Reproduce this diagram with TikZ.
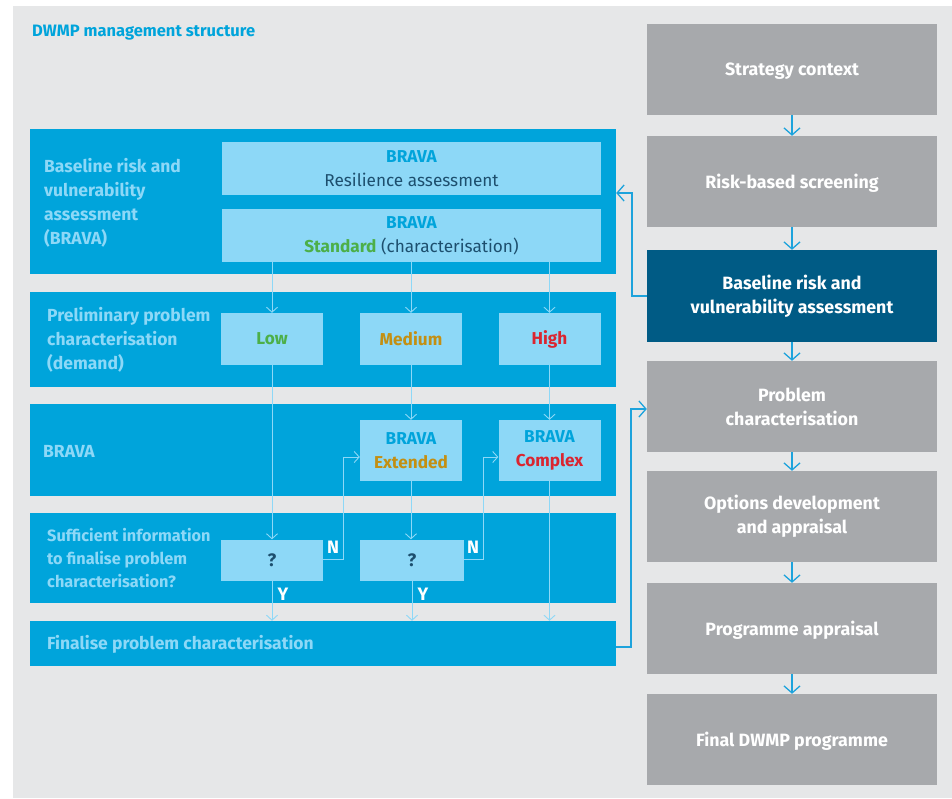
\documentclass[tikz,border=0pt]{standalone}
\usepackage{fontspec}
\setmainfont{Fira Sans}
\usetikzlibrary{arrows.meta,calc}
\definecolor{bggray}{HTML}{E6E7E8}
\definecolor{panelblue}{HTML}{00A4DB}
\definecolor{lightbox}{HTML}{8DD8F7}
\definecolor{boxgray}{HTML}{A7A9AC}
\definecolor{darkblue}{HTML}{005B85}
\definecolor{textdark}{HTML}{1D4F6E}
\definecolor{stdgreen}{HTML}{4CAF48}
\definecolor{medgold}{HTML}{C38F12}
\definecolor{hired}{HTML}{DA2530}
\definecolor{arrcyan}{HTML}{1DA3DC}
\tikzset{
  panel/.style={fill=panelblue, draw=none, minimum width=586pt, inner sep=0pt},
  plabel/.style={anchor=west, align=left, text=lightbox, font=\fontsize{17.5}{24}\selectfont\bfseries, inner sep=0pt},
  lbox/.style={fill=lightbox, draw=none, inner sep=0pt, align=center, font=\fontsize{17.2}{24}\selectfont},
  rbox/.style={fill=boxgray, draw=none, minimum width=290pt, minimum height=91pt, inner sep=0pt, align=center, text=white, font=\fontsize{17.8}{24}\selectfont\bfseries},
  oneline/.style={text depth=0pt},
  lconn/.style={draw=lightbox, line width=0.9pt, -{Straight Barb[length=5pt,width=11pt,line width=0.9pt]}},
  rconn/.style={draw=arrcyan, line width=1.3pt, -{Straight Barb[length=7pt,width=16pt,line width=1.3pt]}},
  yn/.style={text=white, font=\fontsize{18}{20}\selectfont\bfseries, inner sep=0pt}
}
\begin{document}
\begin{tikzpicture}[x=1pt,y=-1pt]
\useasboundingbox[fill=white] (0,0) rectangle (952,798);
\fill[bggray] (13,6) rectangle (952,798);
\node[anchor=west, text=panelblue, font=\fontsize{16.5}{18}\selectfont\bfseries, inner sep=0pt] (title) at (32,33) {DWMP management structure};

% right column
\node[rbox, oneline] (r1) at (792,69.5) {Strategy context};
\node[rbox, oneline] (r2) at (792,181.5) {Risk-based screening};
\node[rbox, fill=darkblue, minimum height=92pt] (r3) at (792,296) {Baseline risk and\\vulnerability assessment};
\node[rbox] (r4) at (792,406.5) {Problem\\characterisation};
\node[rbox] (r5) at (792,516.5) {Options development\\and appraisal};
\node[rbox, oneline] (r6) at (792,628.5) {Programme appraisal};
\node[rbox, oneline] (r7) at (792,739.5) {Final DWMP programme};
\foreach \a/\b in {r1/r2,r2/r3,r3/r4,r4/r5,r5/r6,r6/r7}
  \draw[rconn] (\a.south) -- (\b.north);

% left panels
\node[panel, minimum height=145pt] (p1) at (323,201.5) {};
\node[panel, minimum height=95pt] (p2) at (323,339.5) {};
\node[panel, minimum height=92pt] (p3) at (323,450) {};
\node[panel, minimum height=90pt] (p4) at (323,558) {};
\node[panel, minimum height=45pt] (p5) at (323,643.5) {};

\node[plabel] (l1) at (44,203) {Baseline risk and\\vulnerability\\assessment\\(BRAVA)};
\node[plabel] (l2) at (47,340) {Preliminary problem\\characterisation\\(demand)};
\node[plabel] (l3) at (43,451) {BRAVA};
\node[plabel, font=\fontsize{16.3}{23}\selectfont\bfseries] (l4) at (47,558) {Sufficient information\\to finalise problem\\characterisation?};
\node[plabel] (l5) at (47,644) {Finalise problem characterisation};

% inner boxes
\node[lbox, minimum width=379pt, minimum height=53pt] (b1) at (411.5,168.5) {\textcolor{panelblue}{\bfseries BRAVA}\\\textcolor{textdark}{Resilience assessment}};
\node[lbox, minimum width=379pt, minimum height=53pt] (b2) at (411.5,235.5) {\textcolor{panelblue}{\bfseries BRAVA}\\\textcolor{stdgreen}{\bfseries Standard} \textcolor{textdark}{(characterisation)}};
\node[lbox, minimum width=102pt, minimum height=52pt] (low) at (272,339) {\textcolor{stdgreen}{\bfseries Low}};
\node[lbox, minimum width=102pt, minimum height=52pt] (med) at (411,339) {\textcolor{medgold}{\bfseries Medium}};
\node[lbox, minimum width=102pt, minimum height=52pt] (high) at (549.5,339) {\raisebox{-2pt}{\textcolor{hired}{\bfseries High}}};
\node[lbox, minimum width=102pt, minimum height=61pt] (ext) at (411,450.5) {\textcolor{panelblue}{\bfseries BRAVA}\\\textcolor{medgold}{\bfseries Extended}};
\node[lbox, minimum width=102pt, minimum height=61pt] (cpx) at (549.5,450.5) {\textcolor{panelblue}{\bfseries BRAVA}\\\textcolor{hired}{\bfseries Complex}};
\node[lbox, minimum width=102pt, minimum height=41pt, font=\fontsize{18}{20}\selectfont] (q1) at (272,560) {\textcolor{textdark}{\bfseries ?}};
\node[lbox, minimum width=104pt, minimum height=41pt, font=\fontsize{18}{20}\selectfont] (q2) at (412,560) {\textcolor{textdark}{\bfseries ?}};

% left connectors
\draw[lconn] (b2.south -| low.north) -- (low.north);
\draw[lconn] (b2.south -| med.north) -- (med.north);
\draw[lconn] (b2.south -| high.north) -- (high.north);
\draw[lconn] (low.south) -- (q1.north);
\draw[lconn] (med.south) -- (ext.north);
\draw[lconn] (high.south) -- (cpx.north);
\draw[lconn] (ext.south) -- (ext.south |- q2.north);
\draw[lconn] (q1.south) -- (q1.south |- p5.north);
\draw[lconn] (q2.south) -- (q2.south |- p5.north);
\draw[lconn] (cpx.south) -- (cpx.south |- p5.north);
\coordinate (n1) at (343.5,559);
\coordinate (n2) at (483,559);
\draw[lconn] ([yshift=1pt]q1.east) -- (n1) |- ([yshift=-6.5pt]ext.west);
\draw[lconn] ([yshift=1pt]q2.east) -- (n2) |- ([yshift=-6.5pt]cpx.west);
\node[yn] (nl1) at (333,547) {N};
\node[yn] (nl2) at (473,547) {N};
\node[yn] (yl1) at (283,594) {Y};
\node[yn] (yl2) at (423,594) {Y};

% cross connectors
\coordinate (c1) at (632,296);
\draw[rconn] (r3.west) -- (c1) |- (p1.east |- 0,193);
\coordinate (c2) at (631,647);
\draw[rconn] (p5.east |- c2) -- (c2) |- (r4.west |- 0,409);
\end{tikzpicture}
\end{document}
